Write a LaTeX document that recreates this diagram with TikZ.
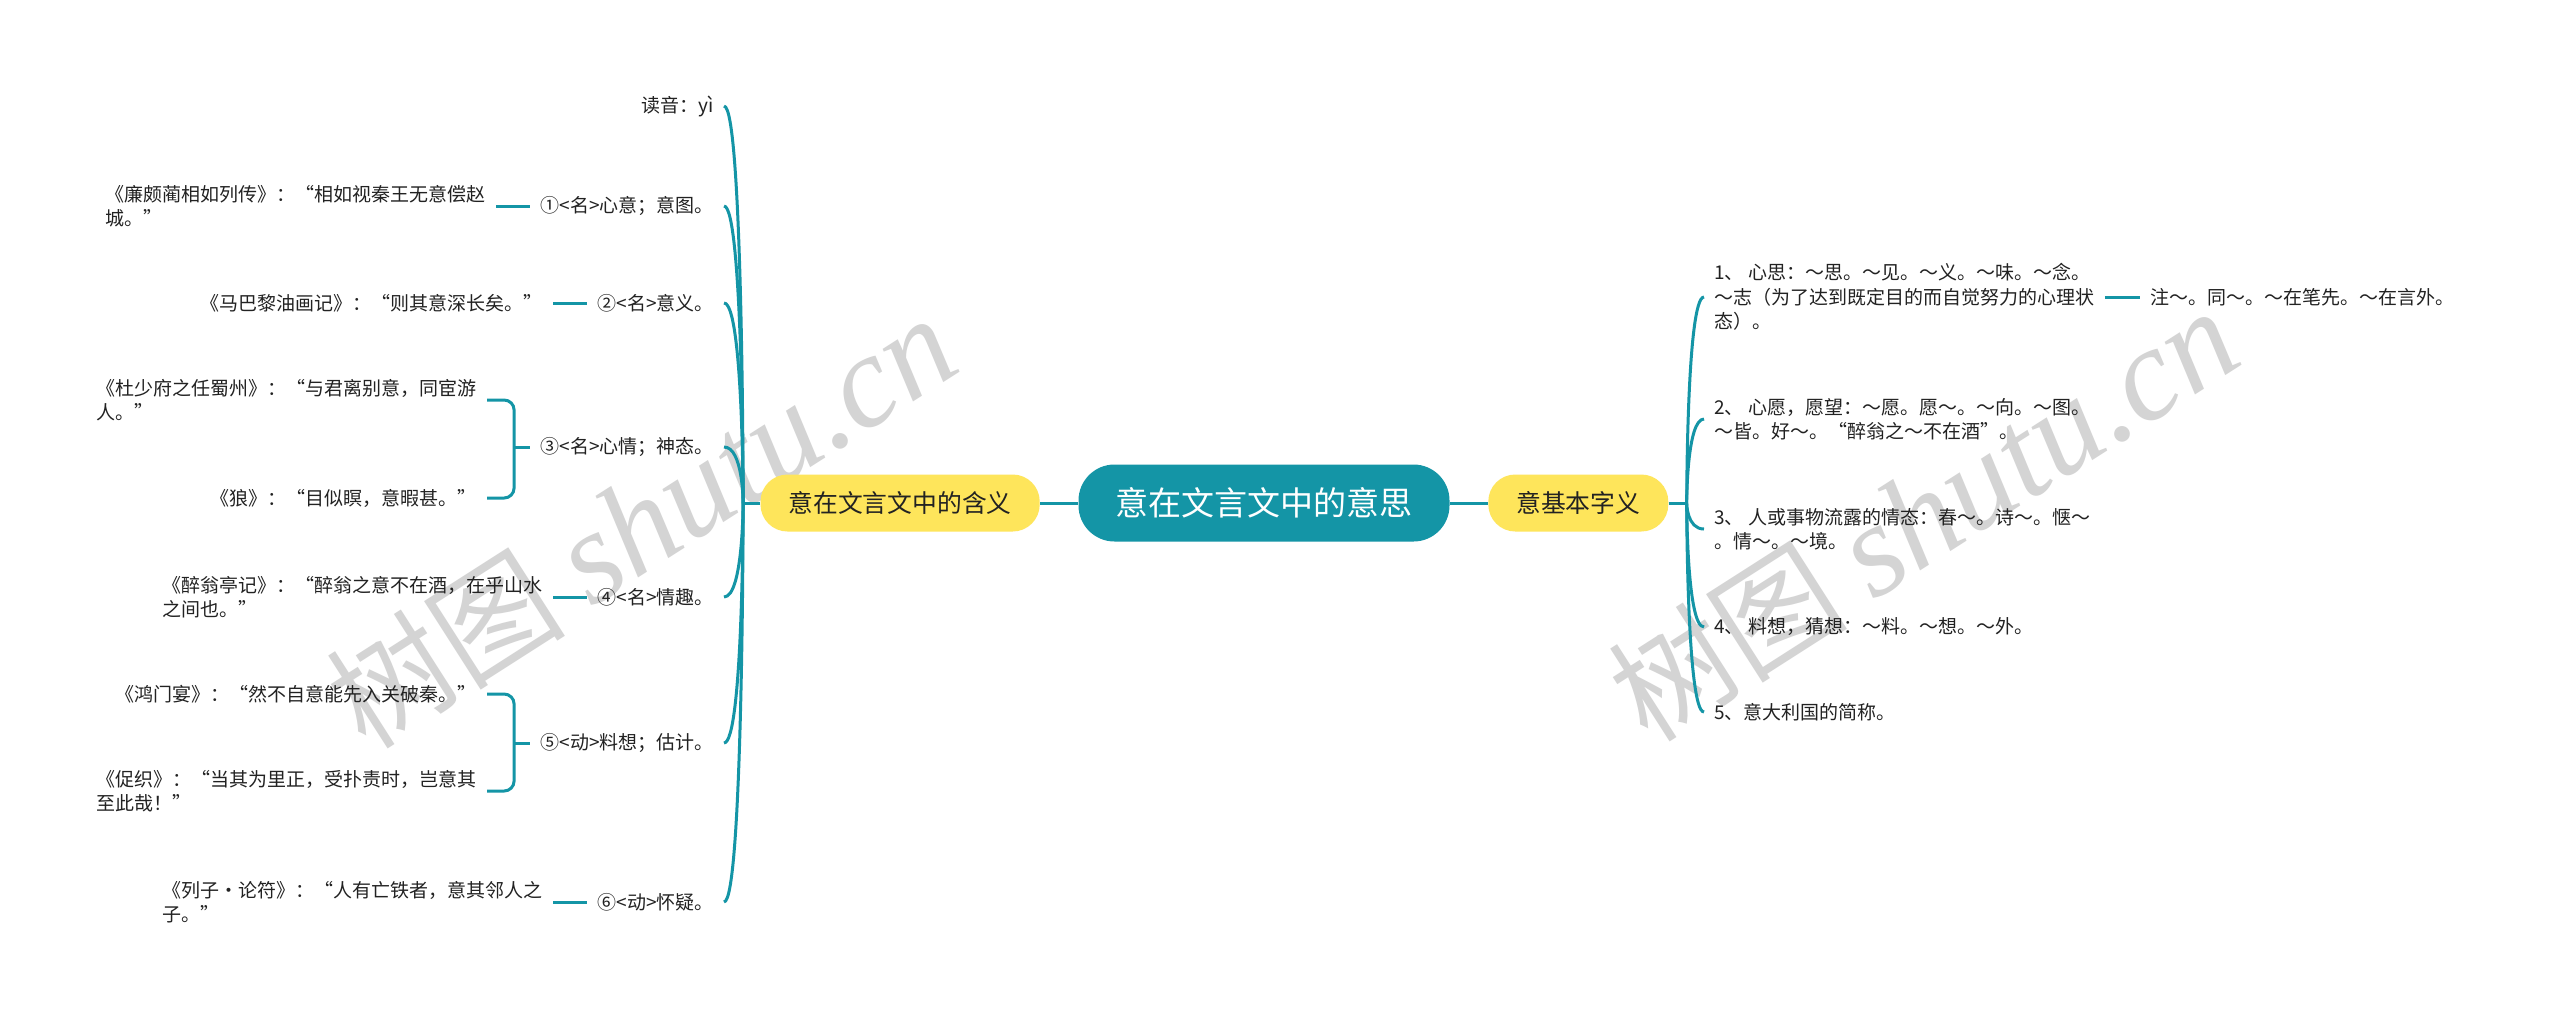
\documentclass[tikz,border=0pt]{standalone}
\usepackage{fontspec}
\setmainfont{Noto Sans CJK SC}
\newfontfamily\wmlatin{Liberation Serif}
\usetikzlibrary{positioning}

\definecolor{teal1}{HTML}{1495A6}
\definecolor{sun}{HTML}{FEE55B}
\definecolor{ink}{HTML}{222222}
\definecolor{wmgray}{HTML}{D4D4D4}

\begin{document}
\begin{tikzpicture}[x=0.5pt,y=-0.5pt,
    root node/.style={fill=teal1,text=white,rounded corners=18pt,minimum height=38.5pt,
        inner xsep=18.5pt,font=\fontsize{16.5pt}{20pt}\selectfont},
    main node/.style={fill=sun,text=ink,rounded corners=13.5pt,minimum height=28.5pt,
        inner xsep=14pt,font=\fontsize{12.4pt}{15pt}\selectfont},
    sub node/.style={text=ink,inner xsep=5pt,inner ysep=2pt,align=left,
        font=\fontsize{9.5pt}{12.2pt}\selectfont},
    branch/.style={draw=teal1,line width=1.5pt},
    curvy/.style={to path={.. controls (\tikztostart) and (\tikztostart |- \tikztotarget) .. (\tikztotarget)}},
    wmark/.style={text=wmgray,rotate=32.6,inner sep=0pt}]

    \useasboundingbox[fill=white] (0,0) rectangle (2560,1019);

    % Watermarks
    \node[wmark] (wm1) at (641,522) {\fontsize{60pt}{60pt}\selectfont 树图 {\wmlatin\itshape\fontsize{66pt}{66pt}\selectfont shutu.cn}};
    \node[wmark] (wm2) at (1923,515) {\fontsize{60pt}{60pt}\selectfont 树图 {\wmlatin\itshape\fontsize{66pt}{66pt}\selectfont shutu.cn}};

    % Define vertices
    \node[root node] (root) at (1264,503) {意在文言文中的意思};
    \node[main node] (mean) [left=19pt of root] {意在文言文中的含义};
    \node[main node] (basic) [right=19pt of root] {意基本字义};
    \coordinate (lj) at ([xshift=-8.5pt]mean.west);
    \coordinate (rj) at ([xshift=9pt]basic.east);

    % left side
    \node[sub node,anchor=east] (s0) at (724,106) {读音：yì};
    \node[sub node,anchor=east] (s1) at (724,206) {①<名>心意；意图。};
    \node[sub node,anchor=east] (s2) at (724,303) {②<名>意义。};
    \node[sub node,anchor=east] (s3) at (724,447) {③<名>心情；神态。};
    \node[sub node,anchor=east] (s4) at (724,597) {④<名>情趣。};
    \node[sub node,anchor=east] (s5) at (724,743) {⑤<动>料想；估计。};
    \node[sub node,anchor=east] (s6) at (724,902) {⑥<动>怀疑。};

    \node[sub node] (q1) [left=17pt of s1] {《廉颇蔺相如列传》：“相如视秦王无意偿赵\\城。”};
    \node[sub node] (q2) [left=17pt of s2] {《马巴黎油画记》：“则其意深长矣。”};
    \node[sub node,anchor=east] (q3a) at (487,400) {《杜少府之任蜀州》：“与君离别意，同宦游\\人。”};
    \node[sub node,anchor=east] (q3b) at (487,498) {《狼》：“目似瞑，意暇甚。”};
    \node[sub node] (q4) [left=17pt of s4] {《醉翁亭记》：“醉翁之意不在酒，在乎山水\\之间也。”};
    \node[sub node,anchor=east] (q5a) at (487,694) {《鸿门宴》：“然不自意能先入关破秦。”};
    \node[sub node,anchor=east] (q5b) at (487,791) {《促织》：“当其为里正，受扑责时，岂意其\\至此哉！”};
    \node[sub node] (q6) [left=17pt of s6] {《列子·论符》：“人有亡铁者，意其邻人之\\子。”};
    \coordinate (b3) at ([xshift=-8pt]s3.west);
    \coordinate (b5) at ([xshift=-8pt]s5.west);

    % right side
    \node[sub node,anchor=west] (c1) at (1704,297) {1、 心思：～思。～见。～义。～味。～念。\\～志（为了达到既定目的而自觉努力的心理状\\态）。};
    \node[sub node,anchor=west] (c2) at (1704,419) {2、 心愿，愿望：～愿。愿～。～向。～图。\\～皆。好～。“醉翁之～不在酒”。};
    \node[sub node,anchor=west] (c3) at (1704,529) {3、 人或事物流露的情态：春～。诗～。惬～\\。情～。～境。};
    \node[sub node,anchor=west] (c4) at (1704,627) {4、 料想，猜想：～料。～想。～外。};
    \node[sub node,anchor=west] (c5) at (1704,712) {5、意大利国的简称。};
    \node[sub node] (n1) [right=17.5pt of c1] {注～。同～。～在笔先。～在言外。};

    % Draw edges
    \path[branch]
        (root) edge (mean)
        (root) edge (basic)
        (mean.west) edge (lj)
        (basic.east) edge (rj)
        (lj) edge[curvy] (s0.east)
        (lj) edge[curvy] (s1.east)
        (lj) edge[curvy] (s2.east)
        (lj) edge[curvy] (s3.east)
        (lj) edge[curvy] (s4.east)
        (lj) edge[curvy] (s5.east)
        (lj) edge[curvy] (s6.east)
        (q1) edge (s1)
        (q2) edge (s2)
        (q4) edge (s4)
        (q6) edge (s6)
        (b3) edge (s3.west)
        (b5) edge (s5.west)
        (rj) edge[curvy] (c1.west)
        (rj) edge[curvy] (c2.west)
        (rj) edge[curvy] (c3.west)
        (rj) edge[curvy] (c4.west)
        (rj) edge[curvy] (c5.west)
        (c1) edge (n1);
    \draw[branch,rounded corners=5pt] (q3a.east) -| (b3) |- (q3b.east);
    \draw[branch,rounded corners=5pt] (q5a.east) -| (b5) |- (q5b.east);

\end{tikzpicture}
\end{document}
